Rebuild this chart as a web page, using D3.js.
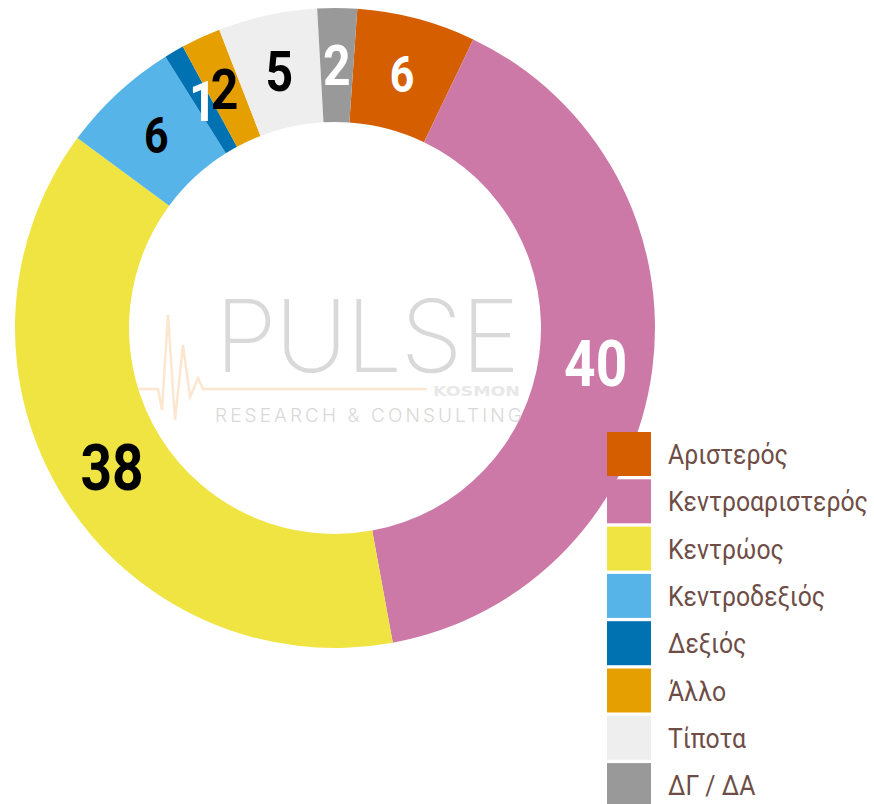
<!DOCTYPE html>
<html>
<head>
<meta charset="utf-8">
<script src="https://cdn.jsdelivr.net/npm/d3@7"></script>
<style>
  body { margin: 0; background: #fff; }
  svg { display: block; }
</style>
</head>
<body>
<div id="chart"></div>
<script>
// Data (percentages)
var categories = ["Αριστερός", "Κεντροαριστερός", "Κεντρώος", "Κεντροδεξιός", "Δεξιός", "Άλλο", "Τίποτα", "ΔΓ / ΔΑ"];
var values = [6, 40, 38, 6, 1, 2, 5, 2];
var colors = ["#d55e00", "#cc79a7", "#f0e442", "#56b4e9", "#0072b2", "#e69f00", "#eeeeee", "#999999"];
var labelColors = ["#fff", "#fff", "#000", "#000", "#fff", "#000", "#000", "#fff"];

var width = 874, height = 804;
var cx = 335, cy = 328;
var outerR = 320, innerR = 206;
var condensed = 0.86; // no condensed font installed, squeeze glyphs instead

var svg = d3.select('#chart').append('svg')
    .attr("width", width)
    .attr("height", height);

var rows = categories.map(function (c, i) {
    return { name: c, value: values[i], color: colors[i], labelColor: labelColors[i] };
});

var pie = d3.pie()
    .sort(null)
    .value(d => d.value)
    .startAngle(4 * Math.PI / 180)
    .endAngle(4 * Math.PI / 180 + 2 * Math.PI);

var arc = d3.arc().innerRadius(innerR).outerRadius(outerR);

var g = svg.append("g").attr("transform", "translate(" + cx + "," + cy + ")");

g.selectAll("path.slice")
    .data(pie(rows))
    .enter().append("path")
    .attr("class", "slice")
    .attr("d", arc)
    .attr("fill", d => d.data.color);

// Watermark logo in the hole
var logo = g.append("g");
logo.append("path")
    .attr("d", d3.line()([[-197, 61], [-177, 61], [-173, 82], [-167, -13], [-160, 92], [-152, 17], [-145, 69], [-137, 50], [-132, 61], [92, 61]]))
    .attr("fill", "none")
    .attr("stroke", "#fde6cf")
    .attr("stroke-width", 2.5);
logo.append("text")
    .attr("x", -120).attr("y", 44)
    .attr("textLength", 305).attr("lengthAdjust", "spacing")
    .style("font-family", "Inter, 'Noto Sans', sans-serif")
    .style("font-weight", 200)
    .style("font-size", "100px")
    .attr("fill", "#d9d9d9")
    .text("PULSE");
logo.append("text")
    .attr("x", 98).attr("y", 68)
    .attr("textLength", 87).attr("lengthAdjust", "spacingAndGlyphs")
    .style("font-family", "'DejaVu Sans', sans-serif")
    .style("font-weight", "bold")
    .style("font-size", "14px")
    .attr("fill", "#e8e8e8")
    .text("KOSMON");
logo.append("text")
    .attr("x", -120).attr("y", 94)
    .attr("textLength", 307).attr("lengthAdjust", "spacing")
    .style("font-family", "Inter, 'Noto Sans', sans-serif")
    .style("font-weight", 300)
    .style("font-size", "19px")
    .attr("fill", "#d9d9d9")
    .text("RESEARCH & CONSULTING");

// Value labels at the slice centroids
var labelR = (innerR + outerR) / 2;
g.selectAll("text.val")
    .data(pie(rows))
    .enter().append("text")
    .attr("class", "val")
    .attr("transform", function (d) {
        var a = (d.startAngle + d.endAngle) / 2;
        return "translate(" + (labelR * Math.sin(a)) + "," + (-labelR * Math.cos(a)) + ") scale(" + condensed + ",1)";
    })
    .attr("text-anchor", "middle")
    .attr("dy", "0.36em")
    .style("font-family", "Roboto, sans-serif")
    .style("font-weight", "bold")
    .style("font-size", d => d.data.value >= 30 ? "64px" : (d.data.value == 6 ? "50px" : "56px"))
    .attr("fill", d => d.data.labelColor)
    .text(d => d.data.value);

// Legend
var legend = svg.append("g").attr("transform", "translate(607,432)");
var item = legend.selectAll("g")
    .data(rows)
    .enter().append("g")
    .attr("transform", (d, i) => "translate(0," + (i * 47.3) + ")");
item.append("rect")
    .attr("width", 44).attr("height", 44)
    .attr("fill", d => d.color);
var legText = item.append("text")
    .attr("y", 22)
    .attr("dy", "0.36em")
    .style("font-family", "Roboto, sans-serif")
    .style("font-size", "28px")
    .attr("fill", "#6e4d46")
    .text(d => d.name);

// the longest entry is about 200px wide in the reference
var longest = d3.max(legText.nodes(), n => n.getComputedTextLength());
var sx = 200 / longest;
legText.attr("transform", "translate(61,0) scale(" + sx + ",1)");
</script>
</body>
</html>
